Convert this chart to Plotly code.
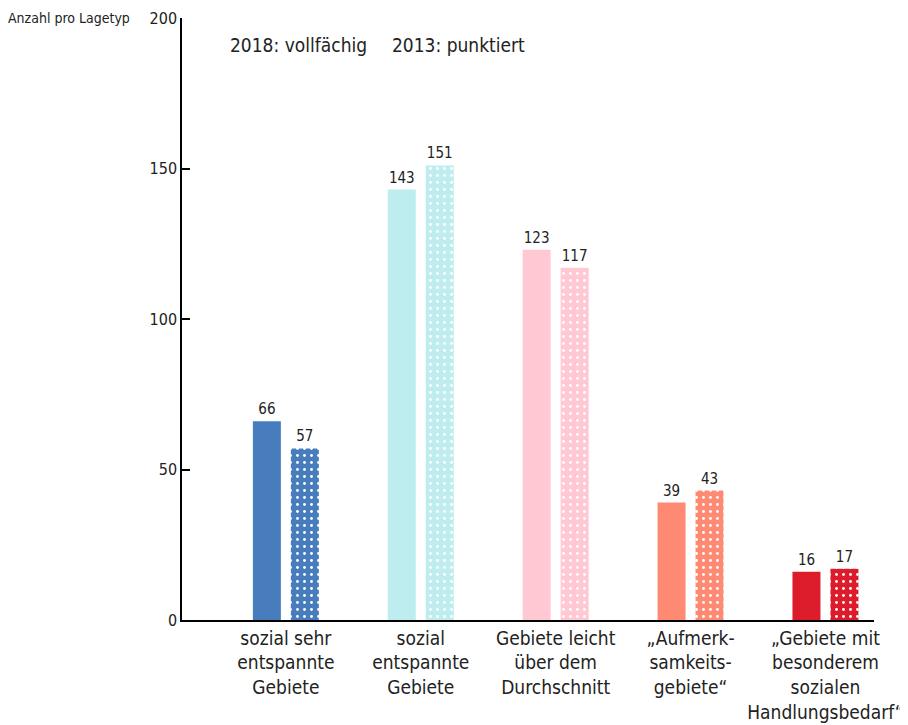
import plotly.graph_objects as go

# data
categories = [
    "sozial sehr<br>entspannte<br>Gebiete",
    "sozial<br>entspannte<br>Gebiete",
    "Gebiete leicht<br>über dem<br>Durchschnitt",
    "„Aufmerk-<br>samkeits-<br>gebiete“",
    "„Gebiete mit<br>besonderem<br>sozialen<br>Handlungsbedarf“",
]
values_2018 = [66, 143, 123, 39, 16]
values_2013 = [57, 151, 117, 43, 17]
bar_colors = ["#477dbd", "#bdedee", "#ffc8d3", "#ff8a74", "#dc1c2a"]

font_name = "DejaVu Sans Condensed, Roboto, Arial"
txt_col = "#222222"

fig = go.Figure()
# one trace per category so each pattern gets its own scalar colours
for cat, v18, v13, col in zip(categories, values_2018, values_2013, bar_colors):
    fig.add_trace(go.Bar(
        x=[cat], y=[v18], name="2018", offsetgroup="2018",
        marker=dict(color=col, line=dict(width=0)),
        text=[v18], textposition="outside", cliponaxis=False,
        textfont=dict(size=15, color=txt_col, family=font_name),
    ))
    fig.add_trace(go.Bar(
        x=[cat], y=[v13], name="2013", offsetgroup="2013",
        marker=dict(color=col, line=dict(width=0),
                    pattern=dict(shape=".", fgcolor="white", bgcolor=col,
                                 size=7, solidity=0.13, fillmode="replace")),
        text=[v13], textposition="outside", cliponaxis=False,
        textfont=dict(size=15, color=txt_col, family=font_name),
    ))

# page body has an 8px margin, so the figure is drawn 8px smaller
fig.update_layout(
    width=900, height=717,
    margin=dict(l=174, r=34, t=10, b=105),
    plot_bgcolor="white", paper_bgcolor="white",
    barmode="group", bargap=0.437, bargroupgap=0.263,
    showlegend=False,
    font=dict(family=font_name, color=txt_col),
    xaxis=dict(
        range=[-0.77, 4.36], showline=True, linecolor="black", linewidth=1.5,
        ticks="", tickfont=dict(size=19, color=txt_col), showgrid=False,
        automargin=False,
    ),
    yaxis=dict(
        range=[0, 200], tickvals=[0, 50, 100, 150, 200],
        showline=True, linecolor="black", linewidth=1.5,
        ticks="inside", ticklen=8, tickcolor="black", tickwidth=1.5,
        tickfont=dict(size=16, color=txt_col), showgrid=False, zeroline=False,
        automargin=False,
    ),
)

fig.add_annotation(text="Anzahl pro Lagetyp", xref="paper", yref="paper",
                   x=-176/692, y=1.0, xanchor="left", yanchor="middle",
                   showarrow=False, font=dict(size=14, color=txt_col))
fig.add_annotation(text="2018: vollfächig", xref="paper", yref="paper",
                   x=46/692, y=1 - 27/602, xanchor="left", yanchor="middle",
                   showarrow=False, font=dict(size=19, color=txt_col))
fig.add_annotation(text="2013: punktiert", xref="paper", yref="paper",
                   x=208/692, y=1 - 27/602, xanchor="left", yanchor="middle",
                   showarrow=False, font=dict(size=19, color=txt_col))

fig.write_html("out.html")
